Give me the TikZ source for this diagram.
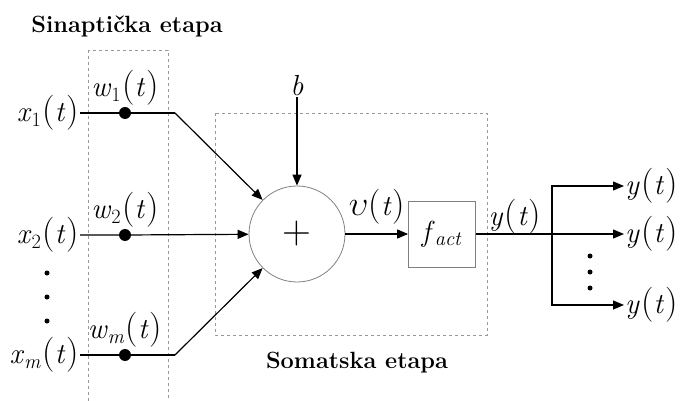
\RequirePackage{fix-cm}
\documentclass[tikz,border=0pt]{standalone}
\usepackage{graphicx}
\usetikzlibrary{arrows.meta, positioning}

% signal labels set in text italics
\newcommand{\bigparen}[1]{{\fontsize{35}{35}\selectfont(}#1{\fontsize{35}{35}\selectfont)}}
\newcommand{\sig}[2]{\textit{#1}\textsubscript{#2}\kern1pt\bigparen{\textit{t}\kern1pt}}

\begin{document}
\begin{tikzpicture}[x=1pt, y=-1pt,
    lbl/.style={font=\fontsize{29}{32}\selectfont, inner sep=1pt},
    heading/.style={font=\fontsize{23.5}{26}\selectfont\bfseries, inner sep=0pt},
    stagebox/.style={draw=gray!80, dashed, line width=0.8pt},
    wire/.style={line width=1.2pt},
    arrow/.style={wire, -{Triangle[length=11pt, width=9pt]}},
    weight/.style={circle, fill, inner sep=0pt, minimum size=12pt},
    dotpt/.style={circle, fill, inner sep=0pt, minimum size=5pt}
]
\useasboundingbox (0,0) rectangle (686,401);

% Stage frames and titles
\draw[stagebox] (88,50) rectangle (168,403);
\draw[stagebox] (215,113) rectangle (487,335);
\node[heading] (syn) at (127,26) {Sinaptička etapa};
\node[heading] (som) at (357,363) {Somatska etapa};

% Inputs
\node[lbl, anchor=east] (x1) at (80,113) {\sig{x}{1}};
\node[lbl, anchor=east] (x2) at (80,235) {\sig{x}{2}};
\node[lbl, anchor=east] (xm) at (80,355) {\sig{x}{\textit{m}}};
\foreach \yy [count=\i] in {273,297,321}
    \node[dotpt] (dx\i) at (47,\yy) {};

% Synaptic weights
\node[weight] (w1) at (125,113) {};
\node[weight] (w2) at (125,235) {};
\node[weight] (wm) at (125,355) {};
\node[lbl, above=0pt of w1] (w1l) {\sig{w}{1}};
\node[lbl, above=0pt of w2] (w2l) {\sig{w}{2}};
\node[lbl, above=0pt of wm] (wml) {\sig{w}{\textit{m}}};

% Soma
\node[circle, draw=gray, line width=0.8pt, minimum size=96pt, inner sep=0pt,
      font=\fontsize{40}{40}\selectfont] (sum) at (297,234) {+};
\node[draw=gray, line width=0.8pt, minimum width=67pt, minimum height=66pt,
      lbl] (act) at (442,234) {\textit{f}\textsubscript{\textit{act}}};
\node[lbl] (b) at (297,86) {\textit{b}};
\node[lbl] (v) at (377,207) {\scalebox{1.2}{$\upsilon$}\bigparen{\textit{t}\kern1pt}};

\coordinate (k1) at (175,113);
\coordinate (km) at (175,355);

\draw[wire] (x1.east) -- (w1) -- (k1);
\draw[arrow] (k1) -- (sum);
\draw[arrow] (x2.east) -- (w2) -- (sum);
\draw[wire] (xm.east) -- (wm) -- (km);
\draw[arrow] (km) -- (sum);
\draw[arrow] (b) -- (sum);
\draw[arrow] (sum) -- (act);

% Output branches
\coordinate (split) at (552,234);
\node[lbl] (y) at (515,217) {\sig{y}{}};
\node[lbl, anchor=west] (y1) at (624,186) {\sig{y}{}};
\node[lbl, anchor=west] (y2) at (624,234) {\sig{y}{}};
\node[lbl, anchor=west] (ym) at (624,305) {\sig{y}{}};
\foreach \yy [count=\i] in {256,272,288}
    \node[dotpt] (dy\i) at (590,\yy) {};

\draw[wire] (act) -- (split);
\draw[arrow] (split) |- (y1.west);
\draw[arrow] (split) -- (y2.west);
\draw[arrow] (split) |- (ym.west);

\end{tikzpicture}
\end{document}
